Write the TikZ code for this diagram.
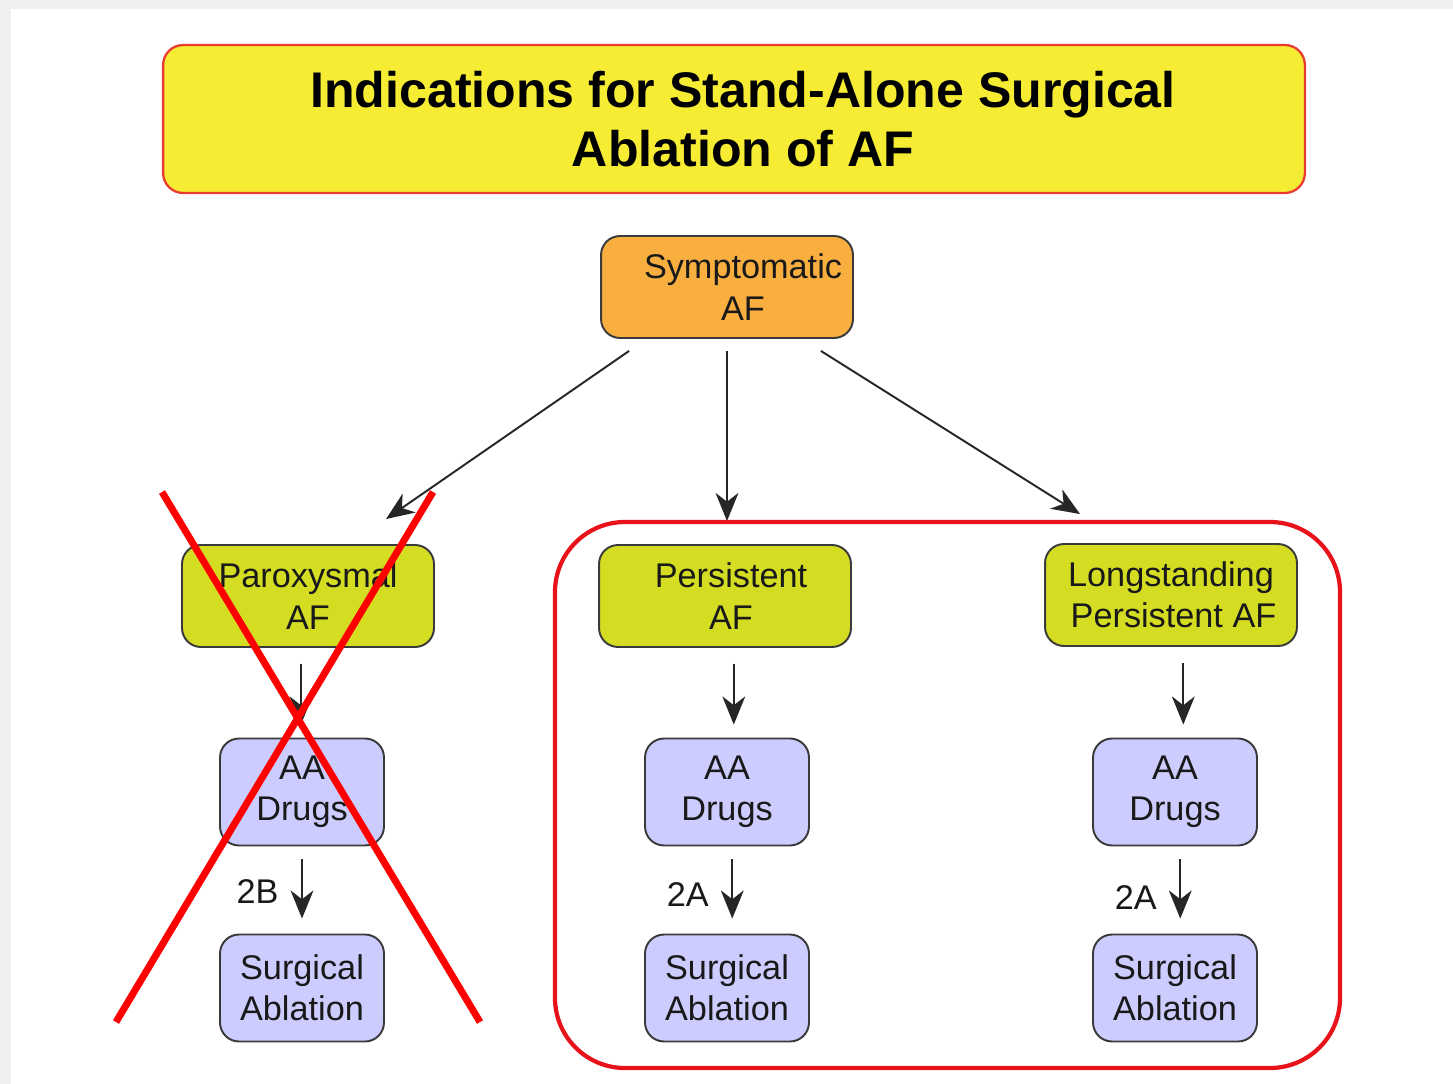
\documentclass[tikz,border=0pt]{standalone}
\usepackage{fontspec}
\setmainfont{Liberation Sans}
\usetikzlibrary{arrows.meta}
\definecolor{titlefill}{RGB}{246,236,52}
\definecolor{titleline}{RGB}{232,60,50}
\definecolor{symfill}{RGB}{249,174,64}
\definecolor{afgreen}{RGB}{213,221,34}
\definecolor{lavender}{RGB}{204,204,255}
\definecolor{boxline}{RGB}{58,58,58}
\definecolor{frame}{RGB}{232,18,26}

\begin{document}
\begin{tikzpicture}[x=0.02cm,y=-0.02cm,
	box/.style={draw=boxline, line width=1.1pt, rounded corners=0.38cm, align=center, inner sep=0pt,
		font=\fontsize{19.5}{23.5}\selectfont, text=black!90},
	afbox/.style={box, minimum width=5.04cm, minimum height=2.04cm},
	drugbox/.style={box, fill=lavender, minimum width=3.28cm, minimum height=2.14cm},
	titlebox/.style={draw=titleline, fill=titlefill, line width=1.3pt, rounded corners=0.4cm, align=center,
		minimum width=22.84cm, minimum height=2.96cm, font=\fontsize{28.5}{34}\selectfont\bfseries},
	arr/.style={-{Stealth[length=16pt,width=13pt,inset=5pt]}, line width=1.1pt, draw=black!85},
	grade/.style={font=\fontsize{19.5}{23.5}\selectfont, text=black!90, inner sep=0pt},
	cross/.style={draw=red, line width=4pt}]
	
	% page
	\fill[gray!12] (0,0) rectangle (1453,1084);
	\fill[white] (11,9) rectangle (1453,1084);
	\useasboundingbox (0,0) rectangle (1453,1084);
	
	\node[titlebox] (title) at (734,119) {\hspace*{0.36cm}Indications for Stand-Alone Surgical\\\hspace*{0.36cm}Ablation of AF};
	
	\node[afbox, fill=symfill] (sym) at (727,287) {\hspace*{0.64cm}Symptomatic\\\hspace*{0.64cm}AF};
	
	\node[afbox, fill=afgreen] (par) at (308,596) {Paroxysmal\\AF};
	\node[afbox, fill=afgreen] (per) at (725,596) {\hspace*{0.24cm}Persistent\\\hspace*{0.24cm}AF};
	\node[afbox, fill=afgreen] (lng) at (1171,595) {Longstanding\\\hspace*{0.1cm}Persistent AF};
	
	\node[drugbox] (aa1) at (302,792) {AA\\Drugs};
	\node[drugbox] (aa2) at (727,792) {AA\\Drugs};
	\node[drugbox] (aa3) at (1175,792) {AA\\Drugs};
	
	\node[drugbox] (sa1) at (302,988) {Surgical\\Ablation};
	\node[drugbox] (sa2) at (727,988) {Surgical\\Ablation};
	\node[drugbox] (sa3) at (1175,988) {Surgical\\Ablation};
	
	% arrows
	\draw[arr] ([shift={(29,12)}]sym.south west) -- ([shift={(78,-25)}]par.north);
	\draw[arr] ([yshift=-0.24cm]sym.south) -- ([shift={(2,-23)}]per.north);
	\draw[arr] ([shift={(-33,12)}]sym.south east) -- ([shift={(-91,-29)}]lng.north);
	
	\draw[arr] ([xshift=-4,yshift=-0.32cm]par.south) -- ([xshift=-4,yshift=0.26cm]par.south |- aa1.north);
	\draw[arr] ([xshift=5,yshift=-0.32cm]per.south) -- ([xshift=5,yshift=0.26cm]per.south |- aa2.north);
	\draw[arr] ([xshift=7,yshift=-0.32cm]lng.south) -- ([xshift=7,yshift=0.26cm]lng.south |- aa3.north);
	
	\draw[arr] ([yshift=-0.26cm]aa1.south) -- node[grade, left=0.45cm, pos=0.55] {2B} ([yshift=0.3cm]sa1.north);
	\draw[arr] ([xshift=3,yshift=-0.26cm]aa2.south) -- node[grade, left=0.45cm, pos=0.6] {2A} ([xshift=3,yshift=0.3cm]sa2.north);
	\draw[arr] ([xshift=3,yshift=-0.26cm]aa3.south) -- node[grade, left=0.45cm, pos=0.65] {2A} ([xshift=3,yshift=0.3cm]sa3.north);
	
	% recommended group
	\draw[frame, line width=2.4pt, rounded corners=1.4cm] (555,522) rectangle (1340,1068);
	
	% not indicated
	\draw[cross] (162,492) -- (480,1022);
	\draw[cross] (433,492) -- (116,1022);
\end{tikzpicture}
\end{document}
